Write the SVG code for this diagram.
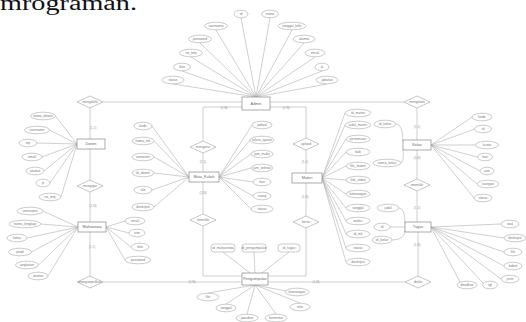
<svg xmlns="http://www.w3.org/2000/svg" width="526" height="322" viewBox="0 0 526 322">
<style>
text{font-family:"Liberation Sans",Arial,sans-serif;font-size:3.4px;fill:#7a7a7a;text-anchor:middle;dominant-baseline:central}
.title{font-family:"Liberation Serif","Times New Roman",serif;font-size:20px;fill:#111;text-anchor:start;dominant-baseline:alphabetic}
.e rect{fill:#fff;stroke:#8f8f8f;stroke-width:0.75}
.e text{font-size:3.8px;fill:#666}
.a ellipse,.a rect{fill:#fff;stroke:#a8a8a8;stroke-width:0.6}
.r polygon{fill:#fff;stroke:#a0a0a0;stroke-width:0.6}
#connectors path{fill:none;stroke:#b0b0b0;stroke-width:0.6}
.card{font-size:3.2px;fill:#999}
</style>
<rect width="526" height="322" fill="#fff"/>
<text class="title" x="0" y="9.5" textLength="137" lengthAdjust="spacingAndGlyphs">mrograman.</text>

<g id="connectors">
<path d="M103,102H242M270,102H404M90,108V139M90,149V180M90,192V222M90,232V276M103,282H242"/>
<path d="M242,107H203V141M203,153V172M203,182V214M203,226V276H242"/>
<path d="M270,107H306V138M306,150V173M306,183V216M306,228V276H268"/>
<path d="M417,108V140M417,150V179M417,191V222M418,232V276M405,282H268"/>
<path d="M241,18L256,97M270,18L256,97M216,30L256,97M292,30L256,97M200,43L256,97M304,43L256,97M191,57L256,97M315,57L256,97M182,71L256,97M322,71L256,97M173,84L256,97M327,84L256,97"/>
<path d="M55.5,116L77,144M49.5,130L77,144M37,143L77,144M42,157L77,144M44,171L77,144M50,183L77,144M61,197L77,144"/>
<path d="M43,211L78,227M41,224L78,227M27,238L78,227M31.5,252L78,227M38.5,265L78,227M48,276L78,227"/>
<path d="M106,227L125,221M106,227L129,233M106,227L131,247M106,227L125,260"/>
<path d="M152,126L189,177M154,141L189,177M154,157L189,177M154,173L189,177M152,190L189,177M154,207L189,177"/>
<path d="M219,177L252,125M219,177L250,140M219,177L251,154M219,177L251,168M219,177L253,182M219,177L253,196M219,177L251,209"/>
<path d="M322,178L345,113M322,178L345,125M322,178L346,139M322,178L346,152M322,178L346,166M322,178L346,180M322,178L346,194M322,178L346,208M322,178L346,221M322,178L346,234M322,178L346,248M322,178L346,262"/>
<path d="M431,145L472,117M431,145L474.5,129M431,145L475.5,145M431,145L477.5,157M431,145L480,171M431,145L477,184M431,145L474,198"/>
<path d="M396,124Q403,124 403,142M401,163Q404,163 403,148"/>
<path d="M431,227L501,224M431,227L504,238M431,227L504,252M431,227L504,266M431,227L501,279M431,227L483,283M431,227L460,282"/>
<path d="M399,208Q405,208 405,224M390,227H405M392,240Q405,240 405,230"/>
<path d="M223,252L250,273M254,252L255,273M289,252L262,273"/>
<path d="M255,285L208,293M255,285L226,304M255,285L247,314M255,285L276,314M255,285L300,303M255,285L286,291"/>
<text class="card" x="224" y="107.5">(1,N)</text>
<text class="card" x="286" y="107.5">(1,N)</text>
<text class="card" x="93" y="128">(1,1)</text>
<text class="card" x="93" y="206">(1,N)</text>
<text class="card" x="92" y="247">(1,1)</text>
<text class="card" x="203" y="162">(1,1)</text>
<text class="card" x="203" y="193">(1,N)</text>
<text class="card" x="305" y="162">(1,1)</text>
<text class="card" x="305" y="197">(1,N)</text>
<text class="card" x="417" y="127">(1,1)</text>
<text class="card" x="417" y="158">(1,N)</text>
<text class="card" x="417" y="208">(1,1)</text>
<text class="card" x="417" y="245">(1,N)</text>
<text class="card" x="192" y="281.5">(1,N)</text>
<text class="card" x="316" y="281.5">(1,N)</text>
</g>

<!-- relationships -->
<g id="rel_mengelola_dosen" class="r"><polygon points="77,102 90,96 103,102 90,108"/><text x="90" y="102">mengelola</text></g>
<g id="rel_mengelola_kelas" class="r"><polygon points="404,102 417,96 430,102 417,108"/><text x="417" y="102">mengelola</text></g>
<g id="rel_mengajar" class="r"><polygon points="77,186 90,180 103,186 90,192"/><text x="90" y="186">mengajar</text></g>
<g id="rel_mengumpulkan" class="r"><polygon points="77,282 90,276 103,282 90,288"/><text x="90" y="282">mengumpulkan</text></g>
<g id="rel_mengatur_mk" class="r"><polygon points="190,147 203,141 216,147 203,153"/><text x="203" y="147">mengatur</text></g>
<g id="rel_memiliki_mk" class="r"><polygon points="190,220 203,214 216,220 203,226"/><text x="203" y="220">memiliki</text></g>
<g id="rel_mengatur_materi" class="r"><polygon points="293,144 306,138 319,144 306,150"/><text x="306" y="144">upload</text></g>
<g id="rel_memiliki_materi" class="r"><polygon points="293,222 306,216 319,222 306,228"/><text x="306" y="222">berisi</text></g>
<g id="rel_memiliki_kelas" class="r"><polygon points="404,185 417,179 430,185 417,191"/><text x="417" y="185">memiliki</text></g>
<g id="rel_dinilai" class="r"><polygon points="405,282 418,276 431,282 418,288"/><text x="418" y="282">dinilai</text></g>

<!-- entities -->
<g id="ent_admin" class="e"><rect x="242" y="97" width="28" height="13"/><text x="256" y="104">Admin</text></g>
<g id="ent_dosen" class="e"><rect x="77" y="139" width="28" height="10"/><text x="91" y="144">Dosen</text></g>
<g id="ent_mahasiswa" class="e"><rect x="78" y="222" width="28" height="10"/><text x="92" y="227">Mahasiswa</text></g>
<g id="ent_matakuliah" class="e"><rect x="189" y="172" width="30" height="10"/><text x="204" y="177">Mata_Kuliah</text></g>
<g id="ent_materi" class="e"><rect x="292" y="173" width="30" height="10"/><text x="307" y="178">Materi</text></g>
<g id="ent_kelas" class="e"><rect x="403" y="140" width="28" height="10"/><text x="417" y="145">Kelas</text></g>
<g id="ent_tugas" class="e"><rect x="405" y="222" width="26" height="10"/><text x="418" y="227">Tugas</text></g>
<g id="ent_pengumpulan" class="e"><rect x="242" y="273" width="26" height="12"/><text x="255" y="279">Pengumpulan</text></g>

<!-- admin attributes -->
<g id="a_admin_1" class="a"><ellipse cx="241" cy="14" rx="7" ry="3.8"/><text x="241" y="14">id</text></g>
<g id="a_admin_2" class="a"><ellipse cx="270" cy="14" rx="8.5" ry="3.8"/><text x="270" y="14">nama</text></g>
<g id="a_admin_3" class="a"><ellipse cx="216" cy="26" rx="11.5" ry="3.8"/><text x="216" y="26">username</text></g>
<g id="a_admin_4" class="a"><ellipse cx="292" cy="26" rx="14" ry="3.8"/><text x="292" y="26">tanggal_lahir</text></g>
<g id="a_admin_5" class="a"><ellipse cx="200" cy="39" rx="11.5" ry="3.8"/><text x="200" y="39">password</text></g>
<g id="a_admin_6" class="a"><ellipse cx="304" cy="39" rx="11" ry="3.8"/><text x="304" y="39">alamat</text></g>
<g id="a_admin_7" class="a"><ellipse cx="191" cy="53" rx="11.5" ry="3.8"/><text x="191" y="53">no_telp</text></g>
<g id="a_admin_8" class="a"><ellipse cx="315" cy="53" rx="10" ry="3.8"/><text x="315" y="53">email</text></g>
<g id="a_admin_9" class="a"><ellipse cx="182" cy="67" rx="8.5" ry="3.8"/><text x="182" y="67">foto</text></g>
<g id="a_admin_10" class="a"><ellipse cx="322" cy="67" rx="7" ry="3.8"/><text x="322" y="67">jk</text></g>
<g id="a_admin_11" class="a"><ellipse cx="173" cy="80" rx="11" ry="3.8"/><text x="173" y="80">status</text></g>
<g id="a_admin_12" class="a"><ellipse cx="327" cy="80" rx="11" ry="3.8"/><text x="327" y="80">jabatan</text></g>

<!-- dosen attributes -->
<g id="a_dosen_1" class="a"><ellipse cx="43" cy="116" rx="12.5" ry="3.8"/><text x="43" y="116">nama_dosen</text></g>
<g id="a_dosen_2" class="a"><ellipse cx="37" cy="130" rx="12.5" ry="3.8"/><text x="37" y="130">username</text></g>
<g id="a_dosen_3" class="a"><ellipse cx="28" cy="143" rx="9" ry="3.8"/><text x="28" y="143">nip</text></g>
<g id="a_dosen_4" class="a"><ellipse cx="32" cy="157" rx="10" ry="3.8"/><text x="32" y="157">email</text></g>
<g id="a_dosen_5" class="a"><ellipse cx="35" cy="171" rx="9" ry="3.8"/><text x="35" y="171">alamat</text></g>
<g id="a_dosen_6" class="a"><ellipse cx="43" cy="183" rx="7" ry="3.8"/><text x="43" y="183">jk</text></g>
<g id="a_dosen_7" class="a"><ellipse cx="50" cy="197" rx="11" ry="3.8"/><text x="50" y="197">no_telp</text></g>

<!-- mahasiswa attributes -->
<g id="a_mhs_1" class="a"><ellipse cx="30" cy="211" rx="13" ry="3.8"/><text x="30" y="211">username</text></g>
<g id="a_mhs_2" class="a"><ellipse cx="25" cy="224" rx="16" ry="3.8"/><text x="25" y="224">nama_lengkap</text></g>
<g id="a_mhs_3" class="a"><ellipse cx="17" cy="238" rx="10" ry="3.8"/><text x="17" y="238">kelas</text></g>
<g id="a_mhs_4" class="a"><ellipse cx="20" cy="252" rx="11.5" ry="3.8"/><text x="20" y="252">prodi</text></g>
<g id="a_mhs_5" class="a"><ellipse cx="27" cy="265" rx="11.5" ry="3.8"/><text x="27" y="265">angkatan</text></g>
<g id="a_mhs_6" class="a"><ellipse cx="38" cy="276" rx="10" ry="3.8"/><text x="38" y="276">alamat</text></g>
<g id="a_mhs_7" class="a"><ellipse cx="135" cy="221" rx="10" ry="3.8"/><text x="135" y="221">email</text></g>
<g id="a_mhs_8" class="a"><ellipse cx="137" cy="233" rx="8" ry="3.8"/><text x="137" y="233">nim</text></g>
<g id="a_mhs_9" class="a"><ellipse cx="140" cy="247" rx="9" ry="3.8"/><text x="140" y="247">foto</text></g>
<g id="a_mhs_10" class="a"><ellipse cx="138" cy="260" rx="13" ry="3.8"/><text x="138" y="260">password</text></g>

<!-- mata kuliah attributes -->
<g id="a_mk_1" class="a"><ellipse cx="143" cy="126" rx="9" ry="3.8"/><text x="143" y="126">kode</text></g>
<g id="a_mk_2" class="a"><ellipse cx="143" cy="141" rx="11" ry="3.8"/><text x="143" y="141">nama_mk</text></g>
<g id="a_mk_3" class="a"><ellipse cx="143" cy="157" rx="11" ry="3.8"/><text x="143" y="157">semester</text></g>
<g id="a_mk_4" class="a"><ellipse cx="143" cy="173" rx="11" ry="3.8"/><text x="143" y="173">id_dosen</text></g>
<g id="a_mk_5" class="a"><ellipse cx="143" cy="190" rx="9" ry="3.8"/><text x="143" y="190">sks</text></g>
<g id="a_mk_6" class="a"><ellipse cx="143" cy="207" rx="11" ry="3.8"/><text x="143" y="207">deskripsi</text></g>
<g id="a_mk_7" class="a"><ellipse cx="262" cy="125" rx="10" ry="3.8"/><text x="262" y="125">jadwal</text></g>
<g id="a_mk_8" class="a"><ellipse cx="262" cy="140" rx="12" ry="3.8"/><text x="262" y="140">tahun_ajaran</text></g>
<g id="a_mk_9" class="a"><ellipse cx="262" cy="154" rx="11" ry="3.8"/><text x="262" y="154">jam_mulai</text></g>
<g id="a_mk_10" class="a"><ellipse cx="262" cy="168" rx="11" ry="3.8"/><text x="262" y="168">jam_selesai</text></g>
<g id="a_mk_11" class="a"><ellipse cx="262" cy="182" rx="9" ry="3.8"/><text x="262" y="182">hari</text></g>
<g id="a_mk_12" class="a"><ellipse cx="262" cy="196" rx="9" ry="3.8"/><text x="262" y="196">ruang</text></g>
<g id="a_mk_13" class="a"><ellipse cx="262" cy="209" rx="11" ry="3.8"/><text x="262" y="209">status</text></g>

<!-- materi attributes -->
<g id="a_materi_1" class="a"><ellipse cx="358" cy="113" rx="13" ry="3.8"/><text x="358" y="113">id_materi</text></g>
<g id="a_materi_2" class="a"><ellipse cx="358" cy="125" rx="13" ry="3.8"/><text x="358" y="125">judul_materi</text></g>
<g id="a_materi_3" class="a"><ellipse cx="358" cy="139" rx="12" ry="3.8"/><text x="358" y="139">pertemuan</text></g>
<g id="a_materi_4" class="a"><ellipse cx="358" cy="152" rx="12" ry="3.8"/><text x="358" y="152">bab</text></g>
<g id="a_materi_5" class="a"><ellipse cx="358" cy="166" rx="12" ry="3.8"/><text x="358" y="166">file_materi</text></g>
<g id="a_materi_6" class="a"><ellipse cx="358" cy="180" rx="12" ry="3.8"/><text x="358" y="180">link_video</text></g>
<g id="a_materi_7" class="a"><ellipse cx="358" cy="194" rx="12" ry="3.8"/><text x="358" y="194">keterangan</text></g>
<g id="a_materi_8" class="a"><ellipse cx="358" cy="208" rx="12" ry="3.8"/><text x="358" y="208">tanggal</text></g>
<g id="a_materi_9" class="a"><ellipse cx="358" cy="221" rx="12" ry="3.8"/><text x="358" y="221">waktu</text></g>
<g id="a_materi_10" class="a"><ellipse cx="358" cy="234" rx="12" ry="3.8"/><text x="358" y="234">id_mk</text></g>
<g id="a_materi_11" class="a"><ellipse cx="358" cy="248" rx="12" ry="3.8"/><text x="358" y="248">status</text></g>
<g id="a_materi_12" class="a"><ellipse cx="358" cy="262" rx="12" ry="3.8"/><text x="358" y="262">deskripsi</text></g>

<!-- kelas attributes -->
<g id="a_kelas_1" class="a"><ellipse cx="385" cy="124" rx="11" ry="3.8"/><text x="385" y="124">id_kelas</text></g>
<g id="a_kelas_2" class="a"><ellipse cx="387" cy="163" rx="14" ry="3.8"/><text x="387" y="163">nama_kelas</text></g>
<g id="a_kelas_3" class="a"><ellipse cx="482" cy="117" rx="10" ry="3.8"/><text x="482" y="117">kode</text></g>
<g id="a_kelas_4" class="a"><ellipse cx="483" cy="129" rx="8.5" ry="3.8"/><text x="483" y="129">id</text></g>
<g id="a_kelas_5" class="a"><ellipse cx="487" cy="145" rx="11.5" ry="3.8"/><text x="487" y="145">kuota</text></g>
<g id="a_kelas_6" class="a"><ellipse cx="485" cy="157" rx="7.5" ry="3.8"/><text x="485" y="157">hari</text></g>
<g id="a_kelas_7" class="a"><ellipse cx="487" cy="171" rx="7" ry="3.8"/><text x="487" y="171">jam</text></g>
<g id="a_kelas_8" class="a"><ellipse cx="488" cy="184" rx="11" ry="3.8"/><text x="488" y="184">ruangan</text></g>
<g id="a_kelas_9" class="a"><ellipse cx="483" cy="198" rx="9" ry="3.8"/><text x="483" y="198">status</text></g>

<!-- tugas attributes -->
<g id="a_tugas_1" class="a"><ellipse cx="388" cy="208" rx="11" ry="3.8"/><text x="388" y="208">judul</text></g>
<g id="a_tugas_2" class="a"><ellipse cx="382" cy="227" rx="8" ry="3.8"/><text x="382" y="227">id</text></g>
<g id="a_tugas_3" class="a"><ellipse cx="382" cy="240" rx="10" ry="3.8"/><text x="382" y="240">id_kelas</text></g>
<g id="a_tugas_4" class="a"><ellipse cx="510" cy="224" rx="9" ry="3.8"/><text x="510" y="224">soal</text></g>
<g id="a_tugas_5" class="a"><ellipse cx="515" cy="238" rx="11" ry="3.8"/><text x="515" y="238">deskripsi</text></g>
<g id="a_tugas_6" class="a"><ellipse cx="513" cy="252" rx="9" ry="3.8"/><text x="513" y="252">file</text></g>
<g id="a_tugas_7" class="a"><ellipse cx="513" cy="266" rx="9" ry="3.8"/><text x="513" y="266">bobot</text></g>
<g id="a_tugas_8" class="a"><ellipse cx="510" cy="279" rx="9" ry="3.8"/><text x="510" y="279">jenis</text></g>
<g id="a_tugas_9" class="a"><ellipse cx="490" cy="285" rx="7.5" ry="3.8"/><text x="490" y="285">tgl</text></g>
<g id="a_tugas_10" class="a"><ellipse cx="467" cy="285" rx="10" ry="3.8"/><text x="467" y="285">deadline</text></g>

<!-- pengumpulan attributes -->
<g id="a_peng_1" class="a"><rect x="211" y="244" width="24" height="8" rx="3"/><text x="223" y="248">id_mahasiswa</text></g>
<g id="a_peng_2" class="a"><rect x="242" y="244" width="24" height="8" rx="3"/><text x="254" y="248">id_pengumpulan</text></g>
<g id="a_peng_3" class="a"><rect x="278" y="244" width="22" height="8" rx="3"/><text x="289" y="248">id_tugas</text></g>
<g id="a_peng_4" class="a"><ellipse cx="208" cy="297" rx="11" ry="3.8"/><text x="208" y="297">file</text></g>
<g id="a_peng_5" class="a"><ellipse cx="226" cy="308" rx="10" ry="3.8"/><text x="226" y="308">tanggal</text></g>
<g id="a_peng_6" class="a"><ellipse cx="247" cy="318" rx="11" ry="3.8"/><text x="247" y="318">jawaban</text></g>
<g id="a_peng_7" class="a"><ellipse cx="276" cy="318" rx="11" ry="3.8"/><text x="276" y="318">komentar</text></g>
<g id="a_peng_8" class="a"><ellipse cx="300" cy="307" rx="10" ry="3.8"/><text x="300" y="307">nilai</text></g>
<g id="a_peng_9" class="a"><ellipse cx="297" cy="292" rx="12" ry="3.8"/><text x="297" y="292">keterangan</text></g>
</svg>
